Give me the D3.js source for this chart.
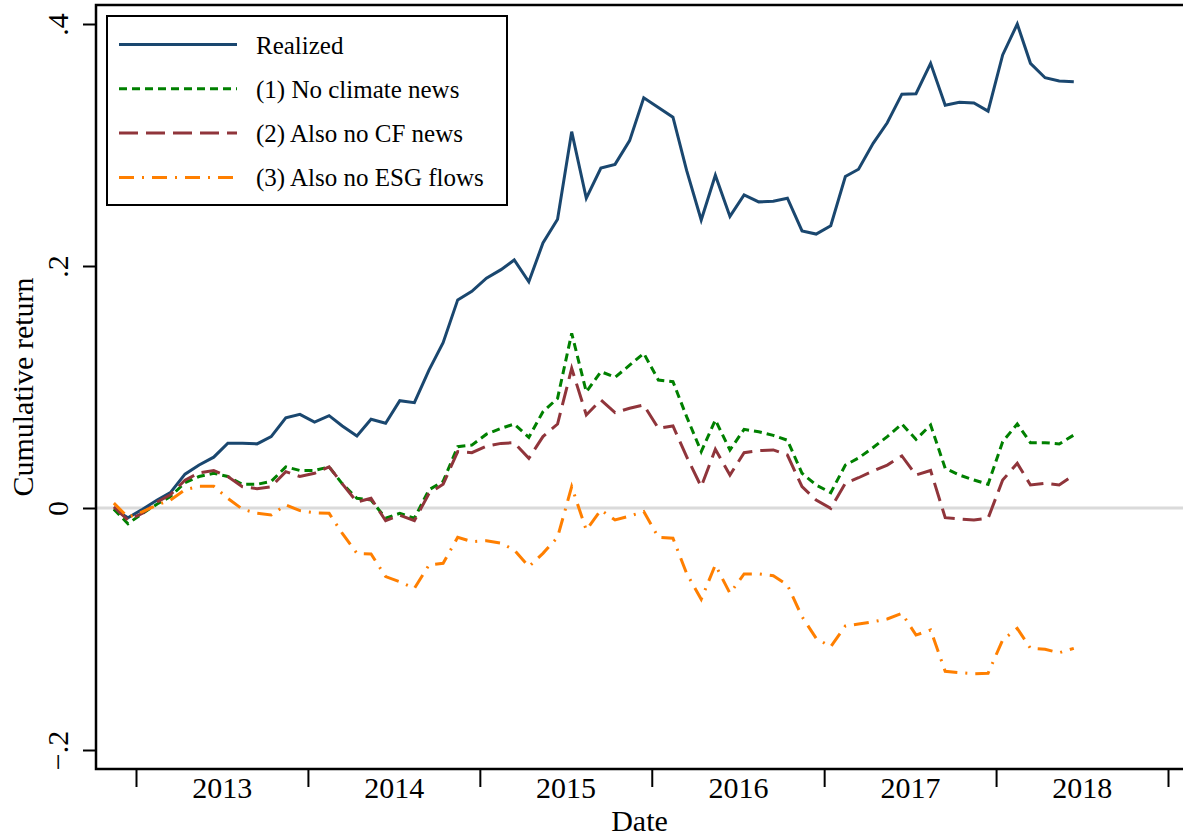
<!DOCTYPE html>
<html>
<head>
<meta charset="utf-8">
<script src="https://cdn.jsdelivr.net/npm/d3@7"></script>
<style>
  body { margin: 0; background: #fff; }
  svg { display: block; font-family: "Liberation Serif", "Times New Roman", serif; }
</style>
</head>
<body>
<svg id="chart"></svg>
<script>
const width = 1183;
const height = 840;

// monthly observations, first one is Nov 2012
const firstMonth = { year: 2012, month: 10 };

const realized = [
    -0.001, -0.008, -0.001, 0.0066, 0.0127, 0.028, 0.0355, 0.042, 0.0535, 0.0535,
    0.053, 0.059, 0.0746, 0.0774, 0.071, 0.0763, 0.0678, 0.0595, 0.0733, 0.070,
    0.0887, 0.087, 0.114, 0.1366, 0.172, 0.179, 0.190, 0.197, 0.205, 0.187,
    0.219, 0.2386, 0.311, 0.256, 0.281, 0.284, 0.3036, 0.339, 0.331, 0.323,
    0.279, 0.238, 0.275, 0.241, 0.2587, 0.253, 0.2535, 0.256, 0.229, 0.2264,
    0.2333, 0.274, 0.280, 0.3014, 0.3184, 0.342, 0.3424, 0.3675, 0.3328, 0.3353,
    0.3347, 0.328, 0.3744, 0.400, 0.3675, 0.3556, 0.3529, 0.3523
];
const noClimate = [
    -0.001, -0.013, -0.0044, 0.0033, 0.0094, 0.021, 0.026, 0.0287, 0.026, 0.0196,
    0.0196, 0.022, 0.034, 0.031, 0.031, 0.034, 0.020, 0.008, 0.0066, -0.0085,
    -0.0044, -0.0085, 0.015, 0.022, 0.0507, 0.052, 0.061, 0.0658, 0.0694, 0.0584,
    0.0796, 0.0906, 0.1444, 0.096, 0.1127, 0.108, 0.118, 0.1278, 0.1058, 0.1044,
    0.0755, 0.0466, 0.0727, 0.048, 0.065, 0.063, 0.060, 0.056, 0.0287, 0.019,
    0.0127, 0.0355, 0.0413, 0.050, 0.059, 0.0694, 0.0567, 0.0686, 0.0328, 0.0273,
    0.0231, 0.0196, 0.0548, 0.0694, 0.054, 0.054, 0.0529, 0.0603
];
const noCF = [
    0.001, -0.01, -0.0044, 0.005, 0.011, 0.023, 0.029, 0.031, 0.026, 0.0176,
    0.016, 0.0176, 0.030, 0.026, 0.0287, 0.034, 0.020, 0.005, 0.008, -0.0105,
    -0.006, -0.0105, 0.012, 0.0196, 0.0466, 0.0457, 0.051, 0.0534, 0.054, 0.041,
    0.059, 0.0694, 0.1154, 0.0769, 0.0893, 0.0788, 0.0824, 0.0851, 0.0658, 0.0678,
    0.0424, 0.0176, 0.0485, 0.0273, 0.0457, 0.0474, 0.048, 0.0438, 0.0176, 0.0066,
    -0.0003, 0.0204, 0.025, 0.0305, 0.0355, 0.043, 0.0273, 0.031, -0.008, -0.009,
    -0.0099, -0.0085, 0.0231, 0.0369, 0.019, 0.0204, 0.019, 0.0273
];
const noESG = [
    0.004, -0.0077, -0.003, 0.0025, 0.0066, 0.015, 0.018, 0.018, 0.008, -0.001,
    -0.0044, -0.0058, 0.0025, -0.0022, -0.0039, -0.0044, -0.021, -0.0375, -0.038, -0.0567,
    -0.0609, -0.0664, -0.0471, -0.0457, -0.0242, -0.0278, -0.027, -0.029, -0.0347, -0.0485,
    -0.0375, -0.0242, 0.0176, -0.0182, -0.0017, -0.0099, -0.0066, -0.003, -0.0242, -0.025,
    -0.054, -0.0755, -0.047, -0.0705, -0.0545, -0.0545, -0.056, -0.0636, -0.0898, -0.1077,
    -0.1146, -0.0975, -0.0959, -0.094, -0.0917, -0.087, -0.105, -0.1008, -0.135, -0.136,
    -0.137, -0.1366, -0.109, -0.0995, -0.116, -0.1168, -0.1196, -0.116
];

const seriesNames = ["Realized", "(1) No climate news", "(2) Also no CF news", "(3) Also no ESG flows"];
const years = [2013, 2014, 2015, 2016, 2017, 2018];
const yTicks = [-0.2, 0, 0.2, 0.4];
const yTickLabels = ["\u2212.2", "0", ".2", ".4"];

const styles = [
    { color: "#1a476f", dash: null },
    { color: "#008000", dash: "8,5" },
    { color: "#90353b", dash: "19,8" },
    { color: "#ff7f00", dash: "15,8,2,8" },
];

const plot = { left: 96, right: 1183, top: 5, bottom: 769 };

const svg = d3.select("#chart").attr("width", width).attr("height", height);
svg.append("rect").attr("width", width).attr("height", height).attr("fill", "#fff");

const x = d3.scaleTime()
    .domain([new Date(2013, 0, 1), new Date(2019, 0, 1)])
    .range([136, 1168]);
const y = d3.scaleLinear().domain([-0.2, 0.4]).range([750, 24]);

const dates = realized.map((d, i) => new Date(firstMonth.year, firstMonth.month + i, 15));

// zero line
svg.append("line")
    .attr("x1", plot.left).attr("x2", plot.right)
    .attr("y1", y(0)).attr("y2", y(0))
    .attr("stroke", "#dadada")
    .attr("stroke-width", 3);

const line = d3.line()
    .x((d, i) => x(dates[i]))
    .y((d) => y(d));

[realized, noClimate, noCF, noESG].forEach((values, k) => {
    svg.append("path")
        .datum(values)
        .attr("d", line)
        .attr("fill", "none")
        .attr("stroke", styles[k].color)
        .attr("stroke-width", 3)
        .attr("stroke-dasharray", styles[k].dash)
        .attr("stroke-linejoin", "miter");
});

// frame
svg.append("path")
    .attr("d", `M${plot.right},${plot.top}H${plot.left}V${plot.bottom}H${plot.right}`)
    .attr("fill", "none")
    .attr("stroke", "#000")
    .attr("stroke-width", 2.5);

// x axis: ticks at year boundaries, labels in the middle of each year
const xTickAxis = svg.append("g")
    .attr("transform", `translate(0,${plot.bottom})`)
    .call(d3.axisBottom(x)
        .tickValues(years.concat([2019]).map((yr) => new Date(yr, 0, 1)))
        .tickSize(18)
        .tickFormat(""));
xTickAxis.select(".domain").remove();
xTickAxis.selectAll("line").attr("stroke-width", 2);

const xLabelAxis = svg.append("g")
    .attr("transform", `translate(0,${plot.bottom})`)
    .call(d3.axisBottom(x)
        .tickValues(years.map((yr) => new Date(yr, 6, 2)))
        .tickSize(0)
        .tickFormat((d) => d.getFullYear()));
xLabelAxis.select(".domain").remove();
xLabelAxis.selectAll("text")
    .attr("y", 29)
    .attr("dy", null)
    .attr("font-size", 30)
    .attr("font-family", "Liberation Serif")
    .attr("fill", "#000");

// y axis
const yAxis = svg.append("g")
    .attr("transform", `translate(${plot.left},0)`)
    .call(d3.axisLeft(y)
        .tickValues(yTicks)
        .tickSize(13)
        .tickFormat((d, i) => yTickLabels[i]));
yAxis.select(".domain").remove();
yAxis.selectAll("line").attr("stroke-width", 2);
yAxis.selectAll("text")
    .attr("x", null)
    .attr("dy", null)
    .attr("transform", "translate(-28,0) rotate(-90)")
    .attr("text-anchor", "middle")
    .attr("font-size", 30)
    .attr("font-family", "Liberation Serif")
    .attr("fill", "#000");

// axis titles
svg.append("text")
    .attr("x", (plot.left + plot.right) / 2)
    .attr("y", 831)
    .attr("text-anchor", "middle")
    .attr("font-size", 30)
    .text("Date");

svg.append("text")
    .attr("transform", `translate(33,${(plot.top + plot.bottom) / 2}) rotate(-90)`)
    .attr("text-anchor", "middle")
    .attr("font-size", 30)
    .text("Cumulative return");

// legend
const legend = svg.append("g");
legend.append("rect")
    .attr("x", 107).attr("y", 16)
    .attr("width", 400).attr("height", 189)
    .attr("fill", "#fff")
    .attr("stroke", "#000")
    .attr("stroke-width", 2);

seriesNames.forEach((name, k) => {
    const rowY = 44.5 + k * 44.3;
    legend.append("line")
        .attr("x1", 119).attr("x2", 237)
        .attr("y1", rowY).attr("y2", rowY)
        .attr("stroke", styles[k].color)
        .attr("stroke-width", 3)
        .attr("stroke-dasharray", styles[k].dash);
    legend.append("text")
        .attr("x", 256)
        .attr("y", rowY + 9)
        .attr("font-size", 25)
        .text(name);
});
</script>
</body>
</html>
